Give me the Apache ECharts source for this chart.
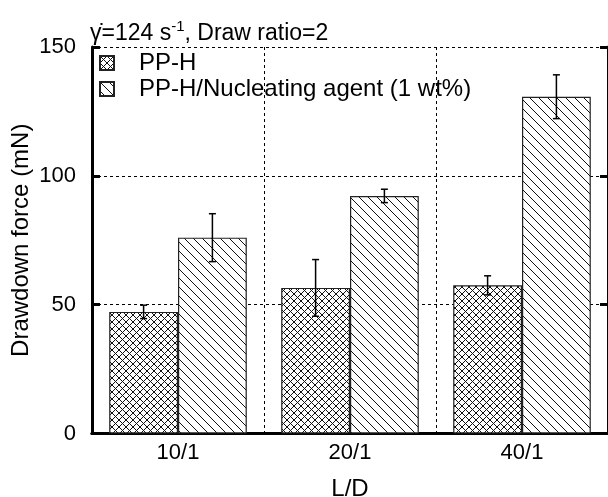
<!DOCTYPE html>
<html>
<head>
<meta charset="utf-8">
<script src="https://cdn.jsdelivr.net/npm/echarts@6/dist/echarts.min.js"></script>
<style>
  html, body { margin: 0; padding: 0; background: #fff; }
  #chart { width: 608px; height: 497px; }
</style>
</head>
<body>
<div id="chart"></div>
<script>
// L/D categories and measured drawdown force (mN) with error bar half-widths
const categories = ['10/1', '20/1', '40/1'];
const ppH = [47.2, 56.5, 57.5];
const ppHErr = [2.6, 11, 3.7];
const ppHNa = [76, 92.2, 130.7];
const ppHNaErr = [9.3, 2.6, 8.5];
const seriesNames = ['PP-H', 'PP-H/Nucleating agent (1 wt%)'];

const FONT = 'Arial, "Liberation Sans", sans-serif';

// hatch fill: "\" lines, optionally crossed with "/" lines
function hatch(n, cross) {
  const c = document.createElement('canvas');
  c.width = n; c.height = n;
  const ctx = c.getContext('2d');
  ctx.fillStyle = '#fff';
  ctx.fillRect(0, 0, n, n);
  ctx.strokeStyle = '#111';
  ctx.lineWidth = 1;
  for (let k = -1; k <= 1; k++) {
    ctx.beginPath();
    ctx.moveTo(-1, -1 + k * n);
    ctx.lineTo(n + 1, n + 1 + k * n);
    ctx.stroke();
    if (cross) {
      ctx.beginPath();
      ctx.moveTo(-1, (k + 1) * n + 1);
      ctx.lineTo(n + 1, (k + 1) * n - n - 1);
      ctx.stroke();
    }
  }
  return { image: c, repeat: 'repeat' };
}

function errData(vals, errs) {
  return vals.map((v, i) => [i, v - errs[i], v + errs[i]]);
}

function errSeries(vals, errs, side) {
  return {
    type: 'custom',
    xAxisIndex: 0,
    yAxisIndex: 0,
    z: 10,
    silent: true,
    data: errData(vals, errs),
    renderItem: (params, api) => {
      const lo = api.coord([api.value(0), api.value(1)]);
      const hi = api.coord([api.value(0), api.value(2)]);
      const bw = api.size([1, 0])[0];
      const x = lo[0] + side * bw * 0.2;
      const cap = 3.5;
      const st = { stroke: '#000', lineWidth: 1.5 };
      return {
        type: 'group',
        children: [
          { type: 'line', shape: { x1: x, y1: lo[1], x2: x, y2: hi[1] }, style: st },
          { type: 'line', shape: { x1: x - cap, y1: hi[1], x2: x + cap, y2: hi[1] }, style: st },
          { type: 'line', shape: { x1: x - cap, y1: lo[1], x2: x + cap, y2: lo[1] }, style: st }
        ]
      };
    }
  };
}

const myChart = echarts.init(document.getElementById('chart'));

const dotted = { type: [3, 3], color: '#000', width: 1 };
const thick = { color: '#000', width: 3 };

const option = {
  animation: false,
  textStyle: { fontFamily: FONT, color: '#000' },
  title: {
    text: '{a|γ̇=124 s}{b|-1}{a|, Draw ratio=2}',
    left: 85,
    top: 14,
    textStyle: {
      rich: {
        a: { fontSize: 23, fontFamily: FONT, fontWeight: 'normal', color: '#000', verticalAlign: 'bottom', lineHeight: 26 },
        b: { fontSize: 15, fontFamily: FONT, fontWeight: 'normal', color: '#000', verticalAlign: 'top', lineHeight: 26 }
      }
    }
  },
  legend: {
    orient: 'vertical',
    left: 94,
    top: 46,
    itemWidth: 14,
    itemHeight: 14,
    itemGap: 2,
    icon: 'rect',
    data: seriesNames,
    textStyle: { fontSize: 24, fontFamily: FONT, color: '#000', padding: [0, 0, 0, 20] }
  },
  grid: { left: 92, right: 0, top: 47, bottom: 63.5, outerBoundsMode: 'none', containLabel: false },
  xAxis: [
    {
      type: 'category',
      data: categories,
      position: 'bottom',
      name: 'L/D',
      nameLocation: 'middle',
      nameGap: 44,
      nameMoveOverlap: false,
      nameTextStyle: { fontSize: 24, fontFamily: FONT, color: '#000' },
      axisLine: { lineStyle: thick },
      axisTick: { inside: true, length: 7, lineStyle: { color: '#000', width: 3 } },
      axisLabel: { fontSize: 22, color: '#000', margin: 8 },
      splitLine: { show: true, lineStyle: dotted }
    },
    {
      type: 'category',
      data: categories,
      position: 'top',
      axisLine: { lineStyle: thick },
      axisTick: { inside: true, length: 9, lineStyle: { color: '#000', width: 3 } },
      axisLabel: { show: false }
    }
  ],
  yAxis: [
    {
      type: 'value',
      min: 0,
      max: 150,
      interval: 50,
      name: 'Drawdown force (mN)',
      nameLocation: 'middle',
      nameGap: 59,
      nameMoveOverlap: false,
      nameTextStyle: { fontSize: 24, fontFamily: FONT, color: '#000' },
      axisLine: { show: true, lineStyle: thick },
      axisTick: { show: true, inside: true, length: 8, lineStyle: { color: '#000', width: 3 } },
      axisLabel: { fontSize: 22, color: '#000', margin: 16 },
      splitLine: { show: true, lineStyle: dotted }
    },
    {
      type: 'value',
      position: 'right',
      min: 0,
      max: 150,
      interval: 50,
      axisLine: { show: true, lineStyle: thick },
      axisTick: { show: true, inside: true, length: 8, lineStyle: { color: '#000', width: 3 } },
      axisLabel: { show: false },
      splitLine: { show: false }
    }
  ],
  series: [
    {
      name: seriesNames[0],
      type: 'bar',
      data: ppH,
      barGap: '0%',
      barCategoryGap: '20%',
      itemStyle: { color: hatch(7, true), borderColor: '#222', borderWidth: 1.2 }
    },
    {
      name: seriesNames[1],
      type: 'bar',
      data: ppHNa,
      itemStyle: { color: hatch(9, false), borderColor: '#222', borderWidth: 1.2 }
    },
    errSeries(ppH, ppHErr, -1),
    errSeries(ppHNa, ppHNaErr, 1)
  ]
};

option && myChart.setOption(option);
</script>
</body>
</html>
